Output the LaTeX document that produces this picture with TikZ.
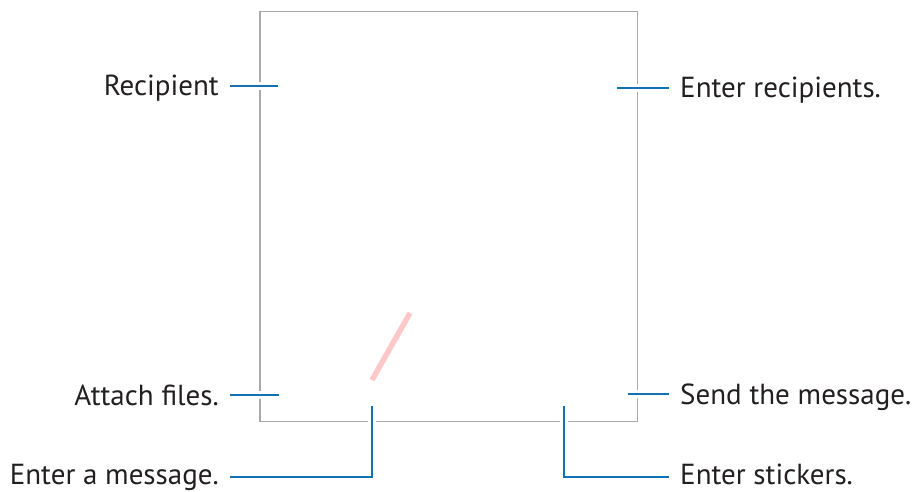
\documentclass[tikz,border=0pt]{standalone}
\usepackage{fontspec}
\setmainfont{PT Sans}
\usetikzlibrary{positioning}
\definecolor{calloutblue}{RGB}{16,114,178}
\definecolor{framegray}{RGB}{170,170,170}
\definecolor{penpink}{RGB}{255,200,200}
\definecolor{textdark}{RGB}{35,31,32}
\tikzset{
  callout/.style={draw=calloutblue, line width=2.6pt, preaction={draw=white, line width=8pt}},
  tagleft/.style={anchor=base east, inner xsep=11pt, inner ysep=0pt, text=textdark, font=\fontsize{29}{34}\selectfont},
  tagright/.style={anchor=base west, inner xsep=11pt, inner ysep=0pt, text=textdark, font=\fontsize{29}{34}\selectfont},
}

\begin{document}
\begin{tikzpicture}[x=1pt,y=-1pt]
\useasboundingbox (0,0) rectangle (916,491);
% screen frame and pen stroke
\draw[framegray, line width=1.5pt] (260,11.5) rectangle (637.5,421.5);
\draw[penpink, line width=5.5pt] (372,380) -- (410,313);
% labels (placed on their baselines)
\node[tagleft] (recip) at (230,95) {Recipient};
\node[tagright] (enterrecip) at (669,97.5) {Enter recipients.};
\node[tagleft] (attach) at (230,405) {Attach files.};
\node[tagright] (send) at (669,404) {Send the message.};
\node[tagleft] (message) at (230,484.5) {Enter a message.};
\node[tagright] (stickers) at (669,484.5) {Enter stickers.};
% callout ends
\coordinate (recipend) at (278,86);
\coordinate (enterrecipend) at (617,88);
\coordinate (attachend) at (279,395);
\coordinate (sendend) at (628,394);
\coordinate (messageend) at (372,406);
\coordinate (stickersend) at (564,406);
% callouts
\draw[callout] (recip.east |- recipend) -- (recipend);
\draw[callout] (enterrecip.west |- enterrecipend) -- (enterrecipend);
\draw[callout] (attach.east |- attachend) -- (attachend);
\draw[callout] (send.west |- sendend) -- (sendend);
\draw[callout] (message.east |- 0,477) -| (messageend);
\draw[callout] (stickers.west |- 0,477) -| (stickersend);
\end{tikzpicture}
\end{document}
